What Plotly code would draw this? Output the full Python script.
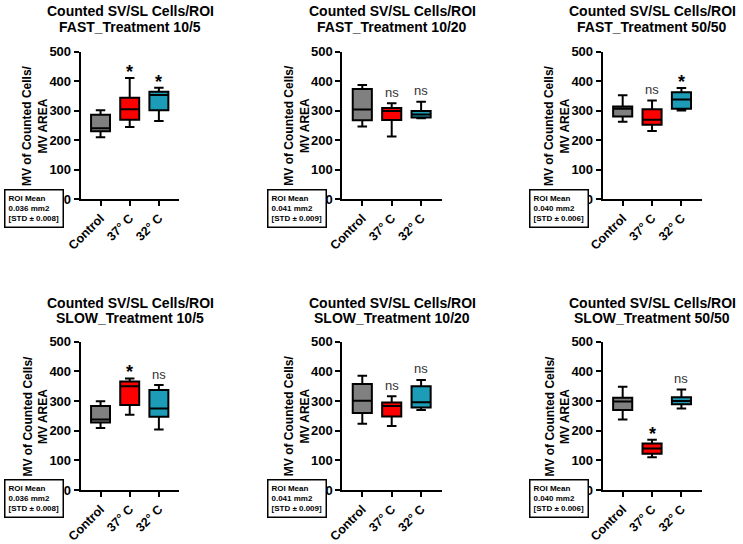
import plotly.graph_objects as go

W, H = 743, 544

categories = ["Control", "37° C", "32° C"]
box_colors = ["#808080", "#ff0000", "#1c9cb6"]

# each group: (min, q1, median, q3, max)
fast_10_5 = [(210, 230, 240, 286, 301), (244, 269, 305, 344, 411), (265, 301, 353, 364, 378)]
fast_10_20 = [(246, 267, 304, 373, 387), (212, 268, 299, 309, 325), (274, 277, 287, 299, 330)]
fast_50_50 = [(262, 280, 306, 314, 352), (231, 252, 269, 305, 334), (300, 306, 338, 362, 377)]
slow_10_5 = [(209, 228, 238, 283, 299), (254, 287, 350, 366, 376), (204, 247, 275, 337, 354)]
slow_10_20 = [(223, 260, 301, 357, 385), (216, 248, 283, 295, 316), (270, 278, 296, 350, 371)]
slow_50_50 = [(238, 270, 298, 311, 348), (110, 122, 140, 157, 169), (275, 289, 300, 313, 339)]

fast_10_5_sig = ["", "*", "*"]
fast_10_20_sig = ["", "ns", "ns"]
fast_50_50_sig = ["", "ns", "*"]
slow_10_5_sig = ["", "*", "ns"]
slow_10_20_sig = ["", "ns", "ns"]
slow_50_50_sig = ["", "*", "ns"]

treatments = ["FAST_Treatment 10/5", "FAST_Treatment 10/20", "FAST_Treatment 50/50",
              "SLOW_Treatment 10/5", "SLOW_Treatment 10/20", "SLOW_Treatment 50/50"]
roi_mean = ["0.036", "0.041", "0.040"]
roi_std = ["0.008", "0.009", "0.006"]

panels = [fast_10_5, fast_10_20, fast_50_50, slow_10_5, slow_10_20, slow_50_50]
sigs = [fast_10_5_sig, fast_10_20_sig, fast_50_50_sig,
        slow_10_5_sig, slow_10_20_sig, slow_50_50_sig]

# pixel layout of the grid (bottom row nudged up so its tick labels fit)
col_px = [(80.7, 179.3), (342.3, 441.7), (602.7, 702)]
row_px = [(51.7, 199), (341.7, 490)]
title_px = [(11.5, 27.5), (302.5, 318)]
roi_x_px = [4, 267, 529]
roi_y_px = [189, 479]


def px(x):
    return x / W


def py(y):
    return 1 - y / H


font = "Arial, Liberation Sans, sans-serif"
fig = go.Figure()
annotations = []

for i, data in enumerate(panels):
    r, c = divmod(i, 3)
    n = str(i + 1)
    xa, ya = "x" + n, "y" + n
    for j, cat in enumerate(categories):
        lo, q1, med, q3, hi = data[j]
        fig.add_trace(go.Box(x=[cat], lowerfence=[lo], q1=[q1], median=[med],
                             q3=[q3], upperfence=[hi], fillcolor=box_colors[j],
                             line=dict(color="black", width=2), width=0.65,
                             whiskerwidth=0.5, boxpoints=False, showlegend=False,
                             hoverinfo="skip", xaxis=xa, yaxis=ya))
        s = sigs[i][j]
        if s == "*":
            annotations.append(dict(x=cat, y=hi, xref=xa, yref=ya, text="*",
                                    showarrow=False, yanchor="middle", yshift=6,
                                    font=dict(family=font, size=18, color="black", weight="bold")))
        elif s == "ns":
            annotations.append(dict(x=cat, y=hi, xref=xa, yref=ya, text="ns",
                                    showarrow=False, yanchor="middle", yshift=11,
                                    font=dict(family=font, size=13, color="#333333")))

    x0, x1 = col_px[c]
    y0, y1 = row_px[r]
    fig.update_layout({
        "xaxis" + n: dict(domain=[px(x0), px(x1)], anchor=ya, type="category",
                          categoryorder="array", categoryarray=categories,
                          range=[-0.68, 2.7], showline=True, linecolor="black",
                          linewidth=2, ticks="outside", ticklen=5, tickwidth=2,
                          tickcolor="black", tickangle=-45, showgrid=False,
                          zeroline=False, automargin=False,
                          tickfont=dict(family=font, size=12.5, color="black", weight="bold")),
        "yaxis" + n: dict(domain=[py(y1), py(y0)], anchor=xa, range=[0, 500],
                          tick0=0, dtick=100, showline=True, linecolor="black",
                          linewidth=2, ticks="outside", ticklen=5, tickwidth=2,
                          tickcolor="black", showgrid=False, zeroline=False,
                          automargin=False,
                          tickfont=dict(family=font, size=13, color="black", weight="bold")),
    })

    # titles
    tcx = px((x0 + x1) / 2)
    for line, ty in zip(["Counted SV/SL Cells/ROI", treatments[i]], title_px[r]):
        annotations.append(dict(x=tcx, y=py(ty), xref="paper", yref="paper",
                                text=line, showarrow=False, xanchor="center",
                                yanchor="middle",
                                font=dict(family=font, size=14, color="black", weight="bold")))

    # y axis title
    annotations.append(dict(x=px(x0 - 45), y=py((y0 + y1) / 2), xref="paper",
                            yref="paper", text="MV of Counted Cells/<br>MV AREA",
                            showarrow=False, textangle=-90, xanchor="center",
                            yanchor="middle",
                            font=dict(family=font, size=12, color="black", weight="bold")))

    # ROI note box
    annotations.append(dict(x=px(roi_x_px[c]), y=py(roi_y_px[r]), xref="paper",
                            yref="paper", xanchor="left", yanchor="top", align="left",
                            text="ROI Mean<br>" + roi_mean[c] + " mm2<br>[STD ± " + roi_std[c] + "]",
                            showarrow=False, bordercolor="black", borderwidth=1.5,
                            borderpad=3, bgcolor="white",
                            font=dict(family=font, size=8, color="black", weight="bold")))

fig.update_layout(width=W, height=H, margin=dict(l=0, r=0, t=0, b=0),
                  paper_bgcolor="white", plot_bgcolor="white",
                  boxmode="overlay", annotations=annotations)

# drop the default page margin so the figure sits at the window's corner
fig.write_html("out.html", config={"displayModeBar": False},
               post_script="document.body.style.margin='0';document.body.style.overflow='hidden';")
